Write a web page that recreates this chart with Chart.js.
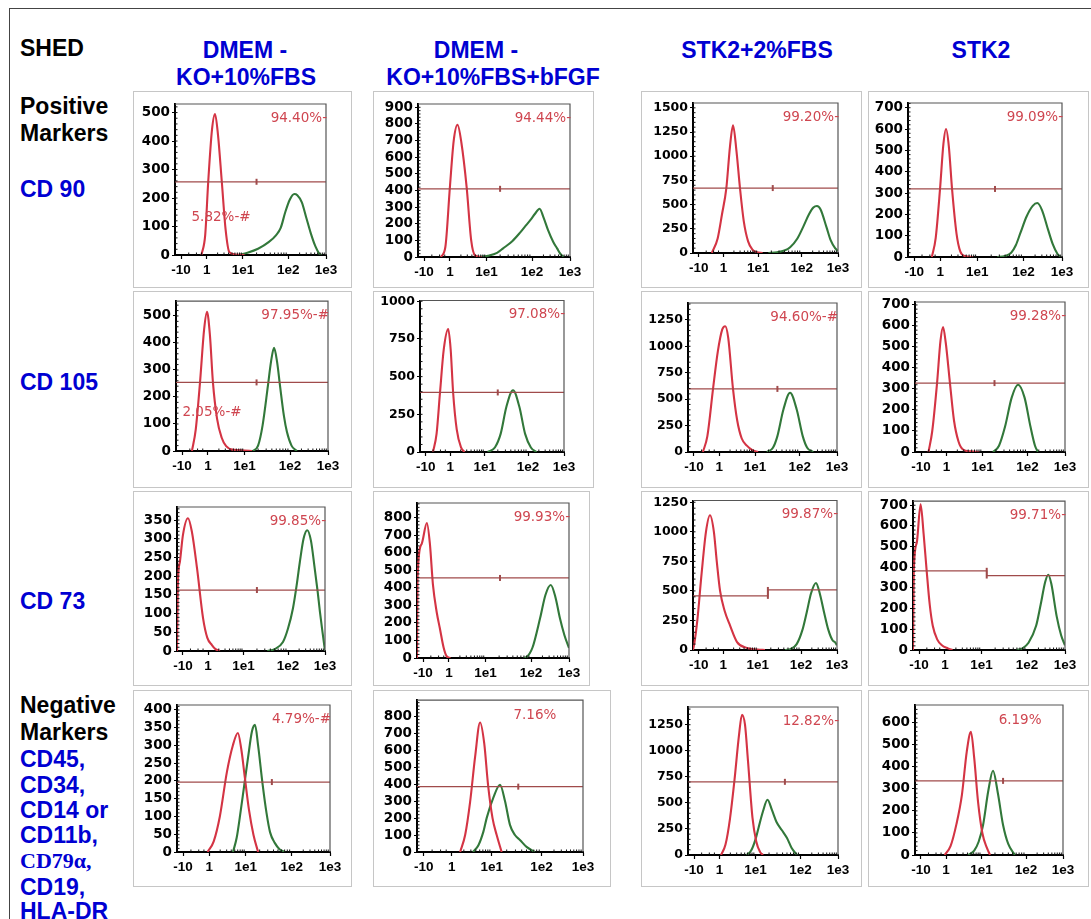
<!DOCTYPE html>
<html>
<head>
<meta charset="utf-8">
<script src="https://cdn.jsdelivr.net/npm/chart.js@4.4.1/dist/chart.umd.min.js"></script>
<style>
  html, body { margin: 0; padding: 0; background: #fff; }
  body { width: 1091px; height: 919px; position: relative; overflow: hidden;
         font-family: "Liberation Sans", Arial, sans-serif; }
  #frame { position: absolute; left: 9px; top: 8px; width: 1200px; height: 1000px;
           border: 1.5px solid #444; }
  .lbl { position: absolute; font-weight: bold; font-size: 23px; line-height: 26px; white-space: nowrap; }
  .blk { color: #000; }
  .blu { color: #0000d2; }
  .ctr { transform: translateX(-50%); }
  .serif { font-family: "Liberation Serif", "Times New Roman", serif; font-size: 22px; }
  .box { position: absolute; border: 1px solid #c6c6c6; box-sizing: border-box; pointer-events: none; }
  canvas { position: absolute; }
</style>
</head>
<body>
<div id="frame"></div>
<script>
// ---- axis ticks (x axis is biexponential, positions in % of axis width) ----
const xTickPos = [4, 21, 45, 75, 100];
const xTickLabels = ['-10', '1', '1e1', '1e2', '1e3'];

// ---- histogram curves: [x (% of axis), count] ----
// CD 90
const cd90A_red   = [[17.5,0],[20,70],[22,257],[24.5,440],[26.5,495],[28.5,420],[31,257],[33.5,90],[36,10],[40,2],[46,0]];
const cd90A_green = [[42,0],[48,8],[55,22],[62,45],[67,70],[70,95],[73,150],[76,194],[79,214],[81,210],[84,185],[87,130],[90,75],[93,30],[95.5,5],[97,0]];
const cd90B_red   = [[15,0],[18,60],[21,422],[23.5,700],[26,795],[28.5,690],[32,420],[35,100],[37.5,10],[42,0]];
const cd90B_green = [[40,0],[46,8],[52,25],[56,52],[62,95],[67,145],[71,190],[74,223],[77,260],[80,290],[82.5,240],[85.5,163],[89,90],[91.5,52],[94,15],[96,0]];
const cd90C_red   = [[13,0],[17,150],[20,400],[23,671],[25.5,1100],[27.6,1320],[30,1050],[32.4,671],[35,330],[38,120],[41,35],[44,8],[48,0]];
const cd90C_green = [[52,0],[58,8],[63,25],[67,60],[72,150],[76,270],[80,400],[83,470],[85.5,486],[88,450],[92,270],[95,130],[98,50],[100,20]];
const cd90D_red   = [[15.5,0],[18,90],[20.8,319],[23,530],[24.7,600],[26.5,520],[28.6,319],[31.5,110],[34,25],[37,5],[42,0]];
const cd90D_green = [[58,0],[63,5],[67,20],[70,55],[73,113],[77,190],[81,240],[84,253],[87,220],[91,127],[94,60],[97,15],[99,0]];
// CD 105
const cd105A_red   = [[10.5,0],[13,80],[15.8,254],[18.5,450],[20.4,515],[22.3,430],[24.3,254],[27,120],[30,50],[33,18],[37,5],[45,2],[50,0]];
const cd105A_green = [[50.5,0],[54,20],[57,96],[60.5,243],[62.5,330],[64.5,382],[66.5,330],[68.4,243],[71,130],[73,70],[76,20],[79.5,0]];
const cd105B_red   = [[9,0],[11.5,120],[13.9,395],[16.5,680],[19.6,815],[21.3,680],[23,395],[25.5,150],[28.5,30],[31,0]];
const cd105B_green = [[47,0],[52,30],[56,120],[60,300],[64.6,410],[69,300],[73,120],[77,30],[81,0]];
const cd105C_red   = [[10,0],[13,150],[16.8,597],[20,950],[23,1160],[25,1190],[27,1080],[30.2,597],[33,300],[36,130],[39.5,60],[43,20],[47,0]];
const cd105C_green = [[53,0],[57,40],[60,150],[64,400],[68.5,560],[73,400],[77,150],[80,40],[84,0]];
const cd105D_red   = [[9,0],[11.5,100],[14.7,328],[17,530],[18.7,595],[20.5,520],[23.3,328],[26,150],[29,50],[32,12],[37,3],[43,0]];
const cd105D_green = [[52,0],[56,30],[60,120],[64.5,260],[68.7,320],[73,260],[77,120],[80,30],[82,0]];
// CD 73
const cd73A_red   = [[0,0],[0.5,170],[2,240],[4,310],[7.4,355],[10,320],[13.5,222],[17.6,88],[20.5,35],[23.6,16],[26,5],[29,0]];
const cd73A_green = [[61,0],[66,5],[71.6,24],[75,60],[78.4,115],[81,180],[83,238],[85.5,300],[88,323],[90.5,295],[93,222],[95,160],[96.6,104],[98.5,45],[100,0]];
const cd73B_red   = [[0,0],[0.3,450],[3,650],[6.5,771],[8.5,650],[10.5,417],[13,260],[15,171],[17.5,60],[19.5,10],[22,0]];
const cd73B_green = [[70,0],[72,5],[76,60],[81,228],[84.5,360],[88,417],[91,350],[94,228],[97,130],[100,57]];
const cd73C_red   = [[0,0],[1,60],[3,250],[6,650],[9,1000],[11.8,1140],[14.5,1000],[16.5,750],[18.8,500],[22,330],[25.7,208],[30.6,67],[37.5,17],[45,3],[50,0]];
const cd73C_green = [[64,0],[68,10],[72,50],[76,170],[79,320],[82,480],[85.4,567],[88,480],[91,320],[94,170],[97,80],[98.6,67],[100,40]];
const cd73D_red   = [[0,0],[0.5,380],[2.5,520],[5,705],[7,560],[9,383],[11,220],[13,117],[16,50],[19,23],[23,8],[26,0]];
const cd73D_green = [[68,0],[72,8],[76,35],[81,117],[84,220],[87,330],[89,364],[91,320],[94.5,164],[97.5,70],[100,23]];
// Negative markers
const negA_red   = [[20,0],[24,30],[28,100],[32.6,225],[36.5,300],[39.8,335],[42,290],[44.4,208],[47,120],[50,48],[53,0]];
const negA_green = [[36.6,0],[39,40],[41,96],[44,190],[46.4,265],[49,340],[51,358],[53,300],[56,189],[58.5,110],[60.8,56],[64,25],[67,8],[70.6,0]];
const negB_red   = [[26,0],[29,100],[32,296],[35,560],[38,763],[40.5,640],[42.8,396],[45.5,200],[48,100],[51,0]];
const negB_green = [[33.7,0],[37,40],[40,120],[42,201],[46,320],[50,396],[53,300],[56,160],[59,100],[62,71],[66,30],[71,0]];
const negC_red   = [[22,0],[25,100],[28,350],[31,720],[34,1150],[36,1346],[38,1250],[40,900],[43,356],[45.5,130],[48,30],[50,0]];
const negC_green = [[39,0],[42,40],[45,150],[47,260],[50,420],[53,530],[56,430],[59,317],[62.5,240],[66,163],[69,70],[72.6,0]];
const negD_red   = [[20,0],[24,40],[28,140],[31.7,273],[35,470],[37.8,559],[40,440],[42.6,241],[45.5,100],[48.6,32],[50.7,0]];
const negD_green = [[35.8,0],[40,20],[43,60],[46,136],[49.5,290],[52.7,382],[56,280],[59.5,136],[63,50],[67.5,0]];

const redCurves = [
  [cd90A_red, cd90B_red, cd90C_red, cd90D_red],
  [cd105A_red, cd105B_red, cd105C_red, cd105D_red],
  [cd73A_red, cd73B_red, cd73C_red, cd73D_red],
  [negA_red, negB_red, negC_red, negD_red]
];
const greenCurves = [
  [cd90A_green, cd90B_green, cd90C_green, cd90D_green],
  [cd105A_green, cd105B_green, cd105C_green, cd105D_green],
  [cd73A_green, cd73B_green, cd73C_green, cd73D_green],
  [negA_green, negB_green, negC_green, negD_green]
];

// y axis ranges and tick steps
const yMax  = [[530, 920, 1550, 722], [555, 1005, 1410, 714], [385, 885, 1265, 720], [414, 895, 1420, 680]];
const yStep = [[100, 100, 250, 100], [100, 250, 250, 100], [50, 100, 250, 100], [50, 100, 250, 100]];

// gate marker: [left level, right level] and the x of its tick
const markerLevels = [
  [[257,257], [410,410], [671,671], [319,319]],
  [[254,254], [395,395], [597,597], [328,328]],
  [[163,163], [457,457], [458,508], [383,360]],
  [[197,197], [385,385], [702,702], [336,336]]
];
const markerTickX = [[54, 54, 55, 56.5], [53, 54, 60, 53], [54, 54.6, 52, 48.5], [62, 61, 64.6, 59.5]];

// percentage labels (null centre = right aligned at the edge)
const pctLabels = [
  ['94.40%-', '94.44%-', '99.20%-', '99.09%-'],
  ['97.95%-#', '97.08%-', '94.60%-#', '99.28%-'],
  ['99.85%-', '99.93%-', '99.87%-', '99.71%-'],
  ['4.79%-#', '7.16%', '12.82%-', '6.19%']
];
const pctCenterX = [[null, null, null, null], [null, null, null, null], [null, null, null, null], [null, 71, null, 71]];
const lowLabels = [
  { row: 0, col: 0, text: '5.82%-#', x: 30.5, y: 130 },
  { row: 1, col: 0, text: '2.05%-#', x: 23.7, y: 143 }
];

// ---- layout (page pixels) ----
const panelBoxes = [
  [[133,91,219,197], [373,91,221,197], [641,91,221,197], [868,91,221,197]],
  [[133,291,219,197], [373,291,221,197], [641,291,221,197], [868,291,221,197]],
  [[133,491,219,195], [373,491,217,195], [641,491,221,195], [868,491,221,195]],
  [[133,690,219,197], [373,690,238,197], [641,690,221,197], [868,690,221,197]]
];
const plotRects = [ // left, top, right, bottom
  [[175,104,326,255], [418,104,570,257], [693,103,838,253], [908,103,1062,257]],
  [[176,300,328,451], [420,300,564,452], [688,303,837,452], [915,302,1065,452]],
  [[177,507,325,651], [417,503,569,658], [693,498,837,650], [913,495,1065,650]],
  [[177,705,330,852], [417,700,583,852], [688,707,838,855], [915,705,1063,855]]
];

const textLabels = [
  ['SHED', 20, 48, 'blk', ''],
  ['DMEM -', 245, 50, 'blu', 'ctr'],
  ['KO+10%FBS', 246, 77, 'blu', 'ctr'],
  ['DMEM -', 476, 50, 'blu', 'ctr'],
  ['KO+10%FBS+bFGF', 493, 77, 'blu', 'ctr'],
  ['STK2+2%FBS', 757, 50, 'blu', 'ctr'],
  ['STK2', 981, 50, 'blu', 'ctr'],
  ['Positive', 20, 106, 'blk', ''],
  ['Markers', 20, 133, 'blk', ''],
  ['CD 90', 20, 189, 'blu', ''],
  ['CD 105', 20, 382, 'blu', ''],
  ['CD 73', 20, 601, 'blu', ''],
  ['Negative', 20, 705, 'blk', ''],
  ['Markers', 20, 732, 'blk', ''],
  ['CD45,', 20, 759, 'blu', ''],
  ['CD34,', 20, 785, 'blu', ''],
  ['CD14 or', 20, 810, 'blu', ''],
  ['CD11b,', 20, 835, 'blu', ''],
  ['CD79\u03b1,', 20, 861, 'blu', 'serif'],
  ['CD19,', 20, 887, 'blu', ''],
  ['HLA-DR', 20, 911, 'blu', '']
];

const RED = '#d43444';
const GREEN = '#32783a';
const MARKER = '#a04b4b';
const PCT = '#cf4650';
const Y_W = 40, X_H = 24;

textLabels.forEach(function (t) {
  const d = document.createElement('div');
  d.className = 'lbl ' + t[3] + (t[4] ? ' ' + t[4] : '');
  d.textContent = t[0];
  d.style.left = t[1] + 'px';
  d.style.top = (t[2] - 13) + 'px';
  document.body.appendChild(d);
});

function toXY(arr) {
  return arr.map(function (p) { return { x: p[0], y: p[1] }; });
}

function drawPanel(r, c) {
  const box = panelBoxes[r][c];
  const pr = plotRects[r][c];
  const canvas = document.createElement('canvas');
  canvas.width = box[2];
  canvas.height = box[3];
  canvas.style.left = box[0] + 'px';
  canvas.style.top = box[1] + 'px';
  document.body.appendChild(canvas);
  const border = document.createElement('div');
  border.className = 'box';
  border.style.left = box[0] + 'px';
  border.style.top = box[1] + 'px';
  border.style.width = box[2] + 'px';
  border.style.height = box[3] + 'px';
  document.body.appendChild(border);

  const lv = markerLevels[r][c];
  const tx = markerTickX[r][c];
  const markerData = [{ x: 0, y: lv[0] }, { x: tx, y: lv[0] }, { x: tx, y: lv[1] }, { x: 100, y: lv[1] }];
  const step = yStep[r][c];
  const ymax = yMax[r][c];
  const yFont = ymax >= 1000 ? 12.5 : 13.5;

  const deco = {
    id: 'deco',
    afterDraw: function (chart) {
      const ctx = chart.ctx;
      const a = chart.chartArea;
      const xs = chart.scales.x, ys = chart.scales.y;
      ctx.save();
      // frame top / right
      ctx.strokeStyle = '#555';
      ctx.lineWidth = 1.2;
      ctx.beginPath();
      ctx.moveTo(a.left, a.top); ctx.lineTo(a.right, a.top); ctx.lineTo(a.right, a.bottom);
      ctx.stroke();
      // minor ticks
      ctx.strokeStyle = '#111';
      ctx.lineWidth = 1;
      ctx.beginPath();
      for (let v = step / 5; v < ymax; v += step / 5) {
        const py = ys.getPixelForValue(v);
        ctx.moveTo(a.left, py); ctx.lineTo(a.left + 2.5, py);
      }
      for (let i = 0; i < xTickPos.length - 1; i++) {
        const p0 = xTickPos[i], p1 = xTickPos[i + 1];
        const ks = i === 0 ? [3, 6, 8] : [2, 3, 4, 5, 6, 7, 8, 9];
        ks.forEach(function (k) {
          const f = i === 0 ? k / 10 : Math.log10(k);
          const px = xs.getPixelForValue(p0 + (p1 - p0) * f);
          ctx.moveTo(px, a.bottom); ctx.lineTo(px, a.bottom - 2.5);
        });
      }
      ctx.stroke();
      // marker tick
      ctx.strokeStyle = MARKER;
      ctx.lineWidth = 2;
      ctx.beginPath();
      const mx = xs.getPixelForValue(tx);
      const y0 = ys.getPixelForValue(Math.max(lv[0], lv[1]));
      const y1 = ys.getPixelForValue(Math.min(lv[0], lv[1]));
      ctx.moveTo(mx, y0 - 3); ctx.lineTo(mx, y1 + 3);
      ctx.stroke();
      // percentages
      ctx.fillStyle = PCT;
      ctx.font = '13.5px "DejaVu Sans", sans-serif';
      ctx.textBaseline = 'middle';
      const cx = pctCenterX[r][c];
      if (cx === null) {
        ctx.textAlign = 'right';
        ctx.fillText(pctLabels[r][c], a.right + 1, a.top + 14);
      } else {
        ctx.textAlign = 'center';
        ctx.fillText(pctLabels[r][c], xs.getPixelForValue(cx), a.top + 15);
      }
      lowLabels.forEach(function (l) {
        if (l.row === r && l.col === c) {
          ctx.textAlign = 'center';
          ctx.fillText(l.text, xs.getPixelForValue(l.x), ys.getPixelForValue(l.y));
        }
      });
      ctx.restore();
    }
  };

  new Chart(canvas.getContext('2d'), {
    type: 'line',
    data: {
      datasets: [
        { data: markerData, borderColor: MARKER, borderWidth: 1.3, pointRadius: 0, tension: 0 },
        { data: toXY(redCurves[r][c]), borderColor: RED, borderWidth: 2.1, pointRadius: 0,
          cubicInterpolationMode: 'monotone' },
        { data: toXY(greenCurves[r][c]), borderColor: GREEN, borderWidth: 2.1, pointRadius: 0,
          cubicInterpolationMode: 'monotone' }
      ]
    },
    options: {
      responsive: false,
      animation: false,
      events: [],
      layout: {
        padding: {
          left: pr[0] - box[0] - Y_W,
          top: pr[1] - box[1],
          right: box[0] + box[2] - pr[2],
          bottom: box[1] + box[3] - pr[3] - X_H
        }
      },
      plugins: { legend: { display: false }, tooltip: { enabled: false } },
      scales: {
        x: {
          type: 'linear', min: 0, max: 100,
          afterBuildTicks: function (axis) {
            axis.ticks = xTickPos.map(function (v) { return { value: v }; });
          },
          afterFit: function (scale) { scale.height = X_H; },
          ticks: {
            autoSkip: false, maxRotation: 0, padding: 3, color: '#000',
            font: { family: '"Liberation Sans", Arial', size: 13.5, weight: 'bold' },
            callback: function (v) {
              const i = xTickPos.indexOf(v);
              return i < 0 ? '' : xTickLabels[i];
            }
          },
          grid: { drawOnChartArea: false, tickLength: 4, color: '#000', tickWidth: 1.2 },
          border: { color: '#000', width: 2 }
        },
        y: {
          min: 0, max: ymax,
          afterBuildTicks: function (axis) {
            const t = [];
            for (let v = 0; v <= ymax; v += step) t.push({ value: v });
            axis.ticks = t;
          },
          afterFit: function (scale) { scale.width = Y_W; },
          ticks: {
            autoSkip: false, padding: 2, color: '#000',
            font: { family: '"DejaVu Sans", sans-serif', size: yFont, weight: 'bold' },
            callback: function (v) { return String(v); }
          },
          grid: { drawOnChartArea: false, tickLength: 3, color: '#000', tickWidth: 1.2 },
          border: { color: '#000', width: 2 }
        }
      }
    },
    plugins: [deco]
  });
}

for (let r = 0; r < 4; r++) {
  for (let c = 0; c < 4; c++) {
    drawPanel(r, c);
  }
}
</script>
</body>
</html>
